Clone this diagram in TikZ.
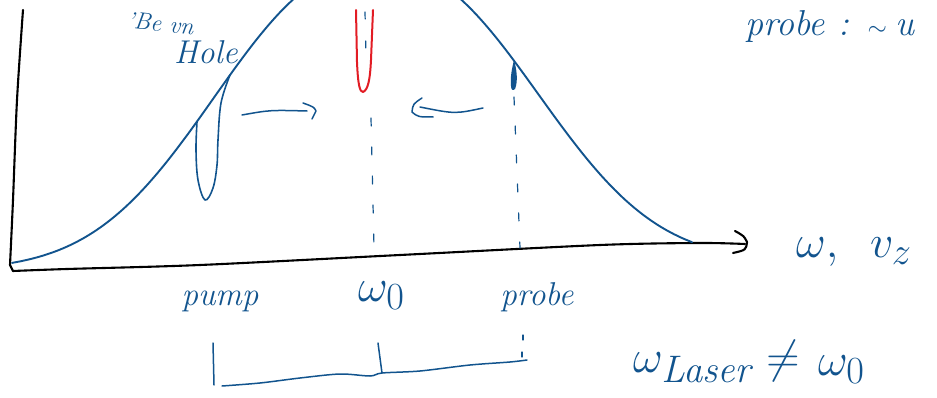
\documentclass[tikz,border=0pt]{standalone}
\usepackage{graphicx}
\definecolor{ink}{RGB}{18,84,142}
\definecolor{redink}{RGB}{226,28,36}
\newcommand{\enlargemath}[1]{\scalebox{1.85}{#1}}
\begin{document}
\begin{tikzpicture}[x=1pt,y=-1pt, line cap=round, line join=round,
  curve/.style={draw=ink, line width=1.9pt},
  stroke/.style={draw=ink, line width=1.5pt},
  axisline/.style={draw=black, line width=2.1pt},
  guide/.style={draw=ink, line width=1.2pt, dash pattern=on 8pt off 21pt},
  hand/.style={text=ink, font=\itshape\fontsize{33}{36}\selectfont, inner sep=0pt},
  handtop/.style={text=ink, font=\itshape\fontsize{36}{40}\selectfont, inner sep=0pt},
  handhole/.style={text=ink, font=\itshape\fontsize{33}{36}\selectfont, inner sep=0pt},
  handsmall/.style={text=ink, font=\itshape\fontsize{24}{26}\selectfont, inner sep=0pt},
  handmath/.style={text=ink, font=\fontsize{24.88}{28}\selectfont, inner sep=0pt}]
\useasboundingbox (0,0) rectangle (937,398);
\begin{scope}
\clip (0,0) rectangle (937,398);
% axes
\draw[axisline] plot[smooth, tension=0.5] coordinates {(23,10) (17,100) (13,200) (10,265)}
  -- (13,271);
\draw[axisline] plot[smooth, tension=0.5] coordinates {(13,271) (67,269) (200,265) (400,255) (600,245) (700,243) (745,244)};
\coordinate (axtip) at (747,242);
\draw[axisline] (735,231) .. controls (744,236) .. (axtip) .. controls (746,250) .. (733,253);
% gaussian profile
\draw[curve] plot[domain=12:692, samples=150, smooth]
  (\x, {269.4-0.01176*(\x-12)-300*exp(-pow((abs(\x-376)+0.01)/205.6,2.35))});
% burned hole at pump
\draw[curve, line width=1.6pt] plot[smooth, tension=0.6] coordinates {(197,122) (196,150) (198,180) (205,200) (213,188) (217,165) (218,140) (221,103) (230,75)};
% red hole at omega0
\draw[draw=redink, line width=2pt] (356,10) -- (357,62) .. controls (358,86) and (360,92) .. (363,92) .. controls (368,90) and (370,80) .. (371,60) -- (373,10);
% dashed guides
\draw[guide, dash pattern=on 7pt off 22pt] (365,12) -- (366,55);
\draw[guide] (371,118) -- (374,247);
\draw[guide] (514,97) -- (520,248);
% probe burn mark
\fill[ink] (514,60) .. controls (517,70) and (518,82) .. (515,89) .. controls (513,91) and (511,90) .. (511,86) .. controls (510,78) and (512,68) .. (514,60) -- cycle;
% arrows
\coordinate (r1) at (242,115);
\coordinate (r2) at (307,111);
\draw[stroke] (r1) .. controls (270,110) .. (r2);
\draw[stroke] (303,103) .. controls (314,107) .. (316,111) .. controls (314,115) .. (312,119);
\coordinate (l1) at (483,108);
\coordinate (l2) at (420,107);
\draw[stroke] (l1) .. controls (455,114) .. (l2);
\draw[stroke] (422,98) .. controls (413,104) .. (412,112) .. controls (418,117) .. (433,117);
% bracket below
\draw[stroke] (213,343) -- (214,385);
\draw[stroke] (378,343) -- (382,373);
\draw[stroke, line width=1.2pt] (523,335) -- (523,340) (522,352) -- (522,357);
\draw[stroke] plot[smooth, tension=0.5] coordinates {(222,386) (260,383) (300,378) (340,374) (370,376) (382,373) (420,371) (470,365) (510,362) (527,360)};
\end{scope}
% labels
\node[handsmall, anchor=base west, rotate=-6] (besetz) at (126,28) {'Be vn};
\node[handhole, anchor=base west] (hole) at (174,64) {Hole};
\node[handtop, anchor=base west] (probetop) at (745,36) {probe\hspace{14pt}:\hspace{18pt}$\sim$\hspace{8pt}u};
\node[hand, anchor=base] (pump) at (220,305) {pump};
\node[handmath, anchor=base west] (w0) at (358,301) {\enlargemath{$\omega_0$}};
\node[hand, anchor=base] (probe) at (537,305) {probe};
\node[handmath, anchor=base west] (wv) at (796,258) {\enlargemath{$\omega,\hspace{13pt}v_z$}};
\node[handmath, anchor=base west] (wl) at (633,372) {\enlargemath{$\omega_{\mathit{Laser}}$}};
\node[handmath, anchor=base] (neq) at (783,372) {\enlargemath{$\neq$}};
\node[handmath, anchor=base west] (w0r) at (818,375) {\enlargemath{$\omega_0$}};
\end{tikzpicture}
\end{document}
